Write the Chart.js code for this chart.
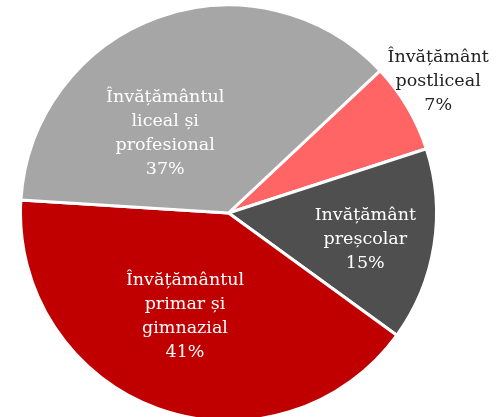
<!DOCTYPE html>
<html>
<head>
<meta charset="utf-8">
<script src="https://cdn.jsdelivr.net/npm/chart.js@4"></script>
<style>
html,body{margin:0;padding:0;background:#fff;}
#wrap{width:504px;height:417px;position:relative;}
</style>
</head>
<body>
<div id="wrap"><canvas id="c" width="504" height="417"></canvas></div>
<script>
const categories = [
  ["Învățământ", "postliceal"],
  ["Invățământ", "preșcolar"],
  ["Învățământul", "primar și", "gimnazial"],
  ["Învățământul", "liceal și", "profesional"]
];
const values = [7, 15, 41, 37];
const percentLabels = ["7%", "15%", "41%", "37%"];
const colors = ["#FF6565", "#4F4F4F", "#C00000", "#A6A6A6"];
const labelColors = ["#222222", "#ffffff", "#ffffff", "#ffffff"];
// label placement: [fraction of radius, angle offset in degrees]
const labelPlacement = [[1.19, -1.5], [0.67, 2], [0.54, 3], [0.49, -18.6]];

const labelPlugin = {
  id: 'sliceLabels',
  afterDatasetsDraw(chart) {
    const ctx = chart.ctx;
    const meta = chart.getDatasetMeta(0);
    ctx.save();
    ctx.font = '17.5px "DejaVu Serif"';
    ctx.textAlign = 'center';
    ctx.textBaseline = 'middle';
    meta.data.forEach((arc, i) => {
      const p = arc.getProps(['x','y','startAngle','endAngle','outerRadius'], true);
      const mid = (p.startAngle + p.endAngle) / 2 + labelPlacement[i][1] * Math.PI / 180;
      const r = p.outerRadius * labelPlacement[i][0];
      const cx = p.x + Math.cos(mid) * r;
      const cy = p.y + Math.sin(mid) * r;
      const lines = categories[i].concat([percentLabels[i]]);
      const lh = 24;
      const top = cy - (lines.length - 1) * lh / 2;
      ctx.fillStyle = labelColors[i];
      lines.forEach((ln, k) => ctx.fillText(ln, cx, top + k * lh));
    });
    ctx.restore();
  }
};

new Chart(document.getElementById('c'), {
  type: 'pie',
  data: {
    labels: categories.map(c => c.join(' ')),
    datasets: [{
      data: values,
      backgroundColor: colors,
      borderColor: '#ffffff',
      borderWidth: 3
    }]
  },
  options: {
    responsive: false,
    animation: false,
    rotation: 46.8,
    radius: 208,
    layout: { padding: { left: 0, right: 47, top: 9, bottom: 0 } },
    plugins: { legend: { display: false }, tooltip: { enabled: false } }
  },
  plugins: [labelPlugin]
});
</script>
</body>
</html>
